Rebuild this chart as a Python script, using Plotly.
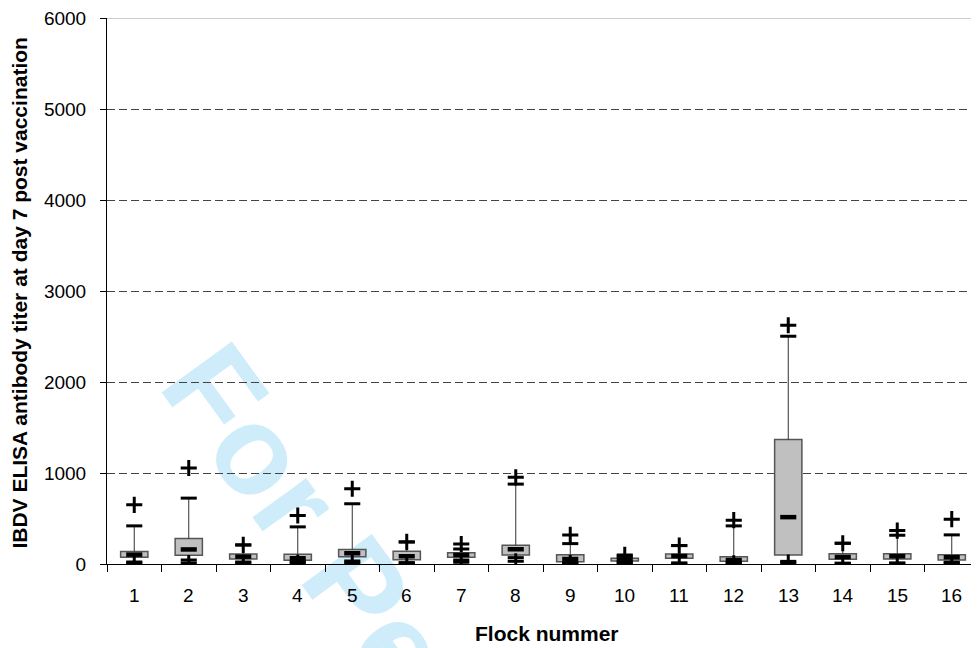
import plotly.graph_objects as go

flocks = list(range(1, 17))
flock_labels = [str(i) for i in flocks]
q1 = [74, 97, 55, 41, 81, 48, 74, 99, 26, 33, 63, 29, 99, 52, 55, 44]
median = [103, 160, 81, 63, 118, 85, 100, 162, 55, 50, 88, 44, 515, 77, 85, 74]
q3 = [136, 279, 110, 107, 158, 140, 125, 206, 103, 63, 110, 81, 1367, 114, 114, 103]
upper_cap = [419, 724, 210, 408, 662, 243, 165, 878, 224, 85, 202, 419, 2503, 228, 316, 320]
upper_plus = [650, 1055, 210, 533, 827, 243, 220, 952, 320, 100, 202, 482, 2624, 228, 367, 493]
lower_cap = [22, 44, 22, 26, 33, 15, 44, 70, 15, 20, 11, 10, 29, 7, 11, 19]
lower_plus = [12, 10, 12, 12, 12, 10, 19, 30, 10, 10, 8, 8, 15, 7, 8, 10]

ytick_vals = [0, 1000, 2000, 3000, 4000, 5000, 6000]
boundaries = [i + 0.5 for i in range(0, 17)]

FONT = "Liberation Sans, Arial, sans-serif"

fig = go.Figure()

# whiskers
wx, wy = [], []
for i, f in enumerate(flocks):
    wx += [f, f, None, f, f, None]
    wy += [q3[i], upper_cap[i], None, q1[i], lower_cap[i], None]
fig.add_trace(go.Scatter(x=wx, y=wy, mode="lines", line=dict(color="#333333", width=1),
                         connectgaps=False, hoverinfo="skip", showlegend=False))

# boxes
fig.add_trace(go.Bar(x=flocks, y=[b - a for a, b in zip(q1, q3)], base=q1, width=0.5,
                     marker=dict(color="#C0C0C0", line=dict(color="#555555", width=1.5)),
                     showlegend=False))

# caps
fig.add_trace(go.Scatter(x=flocks + flocks, y=upper_cap + lower_cap, mode="markers",
                         marker=dict(symbol="line-ew", size=11.5,
                                     line=dict(color="black", width=3)),
                         showlegend=False))
# medians
fig.add_trace(go.Scatter(x=flocks, y=median, mode="markers",
                         marker=dict(symbol="line-ew", size=11.5,
                                     line=dict(color="black", width=4.5)),
                         showlegend=False))
# plus markers
fig.add_trace(go.Scatter(x=flocks + flocks, y=upper_plus + lower_plus, mode="markers",
                         marker=dict(symbol="cross-thin", size=11.5,
                                     line=dict(color="black", width=3)),
                         showlegend=False))

# category labels placed under the axis
label_annotations = [
    dict(text=lab, x=f, xref="x", y=-0.0568, yref="paper", xanchor="center",
         yanchor="middle", showarrow=False, font=dict(size=19))
    for f, lab in zip(flocks, flock_labels)
]

fig.update_layout(
    width=971, height=640,
    margin=dict(l=99, r=0, t=10, b=84),
    paper_bgcolor="white",
    plot_bgcolor="rgba(0,0,0,0)",
    font=dict(family=FONT, color="black", size=19),
    showlegend=False,
    xaxis=dict(range=[0.5, 16.5], tickvals=boundaries, showticklabels=False,
               ticks="outside", ticklen=7, tickcolor="black",
               showline=True, linecolor="black", linewidth=1,
               showgrid=False, zeroline=False),
    yaxis=dict(range=[0, 6000], tickvals=ytick_vals, ticks="outside", ticklen=6,
               tickcolor="black", showline=True, linecolor="black", linewidth=1,
               showgrid=True, gridcolor="#444444", gridwidth=1, griddash="8px,4px",
               zeroline=False, ticklabelstandoff=10, ticklabeloverflow="allow",
               tickfont=dict(size=19)),
    shapes=[
        dict(type="line", xref="paper", yref="y", x0=0, x1=1, y0=6000, y1=6000,
             line=dict(color="#999999", width=1), layer="below"),
        dict(type="rect", xref="paper", yref="paper", x0=0.434, x1=0.444, y0=-0.345, y1=-0.335,
             line=dict(width=0), fillcolor="rgba(0,0,0,0)", layer="below",
             label=dict(text="For Peer Review", textangle=54, textposition="middle center",
                        font=dict(family=FONT, size=126, color="#CFECFB", weight="bold"))),
    ],
    annotations=label_annotations + [
        dict(text="<b>Flock nummer</b>", xref="paper", yref="paper", x=0.5046, y=-0.1264,
             xanchor="center", yanchor="middle", showarrow=False, font=dict(size=21)),
        dict(text="<b>IBDV ELISA antibody titer at day 7 post vaccination</b>", xref="paper",
             yref="paper", x=-0.0998, y=0.497, xanchor="center", yanchor="middle",
             textangle=-90, showarrow=False, font=dict(size=21)),
    ],
)

fig.write_html("out.html")
